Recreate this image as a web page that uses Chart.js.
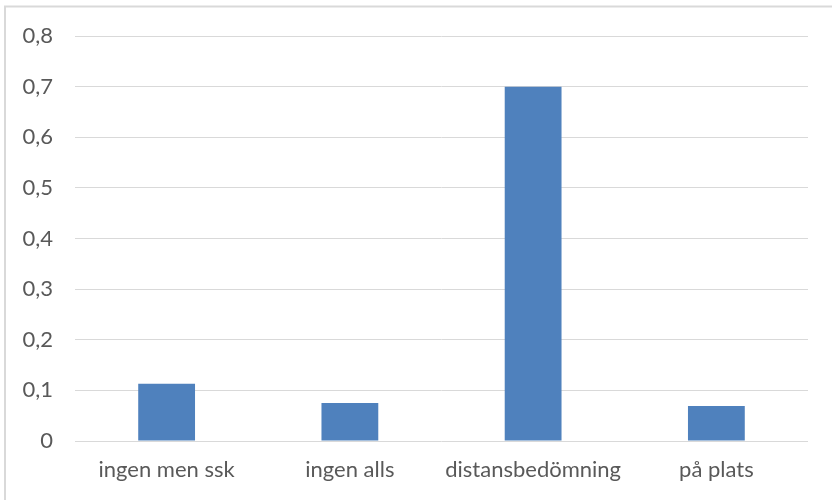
<!DOCTYPE html>
<html>
<head>
<meta charset="utf-8">
<script src="https://cdn.jsdelivr.net/npm/chart.js@4"></script>
<style>
  html, body { margin: 0; padding: 0; background: #ffffff; }
  #wrap { width: 832px; height: 500px; position: relative; }
</style>
</head>
<body>
<div id="wrap"><canvas id="c" width="832" height="500"></canvas></div>
<script>
// Andel per bedömningstyp
const categories = ['ingen men ssk', 'ingen alls', 'distansbedömning', 'på plats'];
const values = [0.113, 0.075, 0.70, 0.069];
const yTicks = [0, 0.1, 0.2, 0.3, 0.4, 0.5, 0.6, 0.7, 0.8];

const FONT = "Lato, 'Open Sans', sans-serif";

// frame around the chart; its right and bottom edges run past the canvas
const framePlugin = {
  id: 'frame',
  afterDraw(chart) {
    const ctx = chart.ctx;
    ctx.save();
    ctx.strokeStyle = '#d9d9d9';
    ctx.lineWidth = 2;
    ctx.strokeRect(5, 6.5, 900, 600);
    ctx.restore();
  }
};

new Chart(document.getElementById('c'), {
  type: 'bar',
  data: {
    labels: categories,
    datasets: [{
      data: values,
      backgroundColor: '#4f81bd',
      borderWidth: 0,
      categoryPercentage: 1,
      barPercentage: 0.31
    }]
  },
  options: {
    responsive: false,
    animation: false,
    layout: { padding: { top: 36, right: 24, bottom: 0, left: 0 } },
    plugins: { legend: { display: false }, tooltip: { enabled: false } },
    scales: {
      x: {
        grid: { display: false, drawTicks: false },
        border: { display: false },
        ticks: { color: '#595959', font: { family: FONT, size: 22 }, padding: 16, maxRotation: 0 },
        afterFit(s) { s.height = 59; }
      },
      y: {
        min: 0, max: 0.8,
        afterBuildTicks(s) { s.ticks = yTicks.map(v => ({ value: v })); },
        grid: { color: '#d9d9d9', lineWidth: 1, drawTicks: false },
        border: { display: false },
        ticks: {
          color: '#595959', font: { family: FONT, size: 22 }, padding: 22,
          callback: v => String(Math.round(v * 10) / 10).replace('.', ',')
        },
        afterFit(s) { s.width = 75; }
      }
    }
  },
  plugins: [framePlugin]
});
</script>
</body>
</html>
